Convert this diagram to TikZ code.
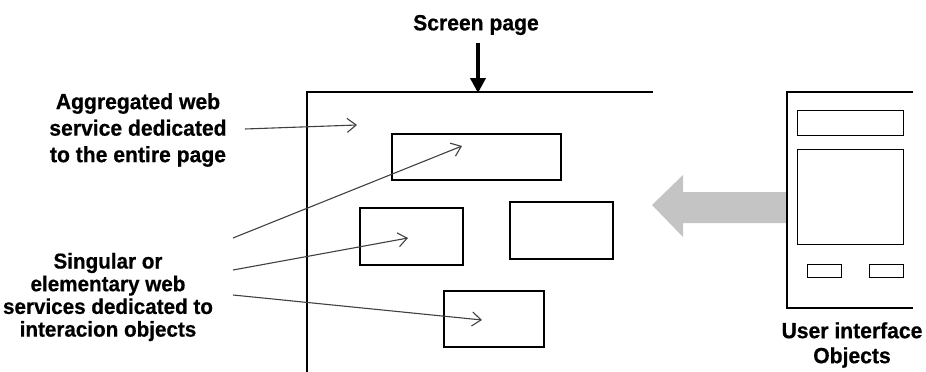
\documentclass[tikz,border=0pt]{standalone}
\usepackage{fontspec}
\setmainfont{Liberation Sans}
\newfontfamily\condsans[FakeStretch=0.96,FakeBold=0.6]{Liberation Sans Bold}
\usetikzlibrary{arrows.meta}
\definecolor{arrowgrey}{HTML}{C4C4C4}
\definecolor{ptrgrey}{HTML}{404040}
\begin{document}
\begin{tikzpicture}[x=1pt,y=-1pt,
  lbl/.style={font=\condsans\fontsize{22}{25}\selectfont, align=center, inner sep=0pt},
  box/.style={draw, line width=1.8pt, inner sep=0pt, anchor=north west},
  uibox/.style={draw, line width=1.3pt, inner sep=0pt, anchor=north west},
  ptr/.style={draw=ptrgrey, line width=1.1pt, -{Straight Barb[length=9pt,width=14pt]}},
  pageframe/.style={line width=2.6pt},
]
\useasboundingbox (0,0) rectangle (926,372);

% screen page frame
\draw[pageframe] (307,372) -- (307,92) -- (653,92);

% title and its arrow
\node[lbl] (sp) at (476,25) {Screen page};
\coordinate (spa) at (478,43);
\coordinate (spt) at (478,93);
\draw[line width=4.5pt,-{Triangle[length=15pt,width=15pt]}] (spa) -- (spt);

% boxes on the page
\node[box, minimum width=169pt, minimum height=46pt] (b1) at (391,133) {};
\node[box, minimum width=103pt, minimum height=57pt] (b2) at (359,207) {};
\node[box, minimum width=103pt, minimum height=57pt] (b3) at (509,201) {};
\node[box, minimum width=100pt, minimum height=56pt] (b4) at (443,290) {};

% left labels
\node[lbl, font=\condsans\fontsize{22}{26.5}\selectfont] (agg) at (138,130) {Aggregated web\\service dedicated\\to the entire page};
\node[lbl, font=\condsans\fontsize{21.5}{22.7}\selectfont] (sing) at (108,297) {Singular or\\elementary web\\services dedicated to\\interacion objects};

% pointer arrows
\coordinate (s1) at (245,129);
\coordinate (t1) at (357,125);
\coordinate (s2) at (233,238);
\coordinate (t2) at (462,146);
\coordinate (s3) at (233,270);
\coordinate (t3) at (408,238);
\coordinate (s4) at (233,295);
\coordinate (t4) at (482,320);
\draw[ptr] (s1) -- (t1);
\draw[ptr] (s2) -- (t2);
\draw[ptr] (s3) -- (t3);
\draw[ptr] (s4) -- (t4);

% big grey arrow
\fill[arrowgrey] (652,205) -- (683,175) -- (683,192) -- (787,192) -- (787,223) -- (683,223) -- (683,237) -- cycle;

% user interface objects frame
\draw[line width=1.3pt] (913,92) -- (787,92) -- (787,308);
\draw[line width=2pt] (786.4,308) -- (913,308);
\node[uibox, minimum width=106pt, minimum height=25pt] (u1) at (797,110) {};
\node[uibox, minimum width=106pt, minimum height=95pt] (u2) at (797,149) {};
\node[uibox, minimum width=34pt, minimum height=13pt] (u3) at (807,264) {};
\node[uibox, minimum width=34pt, minimum height=13pt] (u4) at (869,264) {};

\node[lbl] (uio) at (852,345) {User interface\\Objects};
\end{tikzpicture}
\end{document}
